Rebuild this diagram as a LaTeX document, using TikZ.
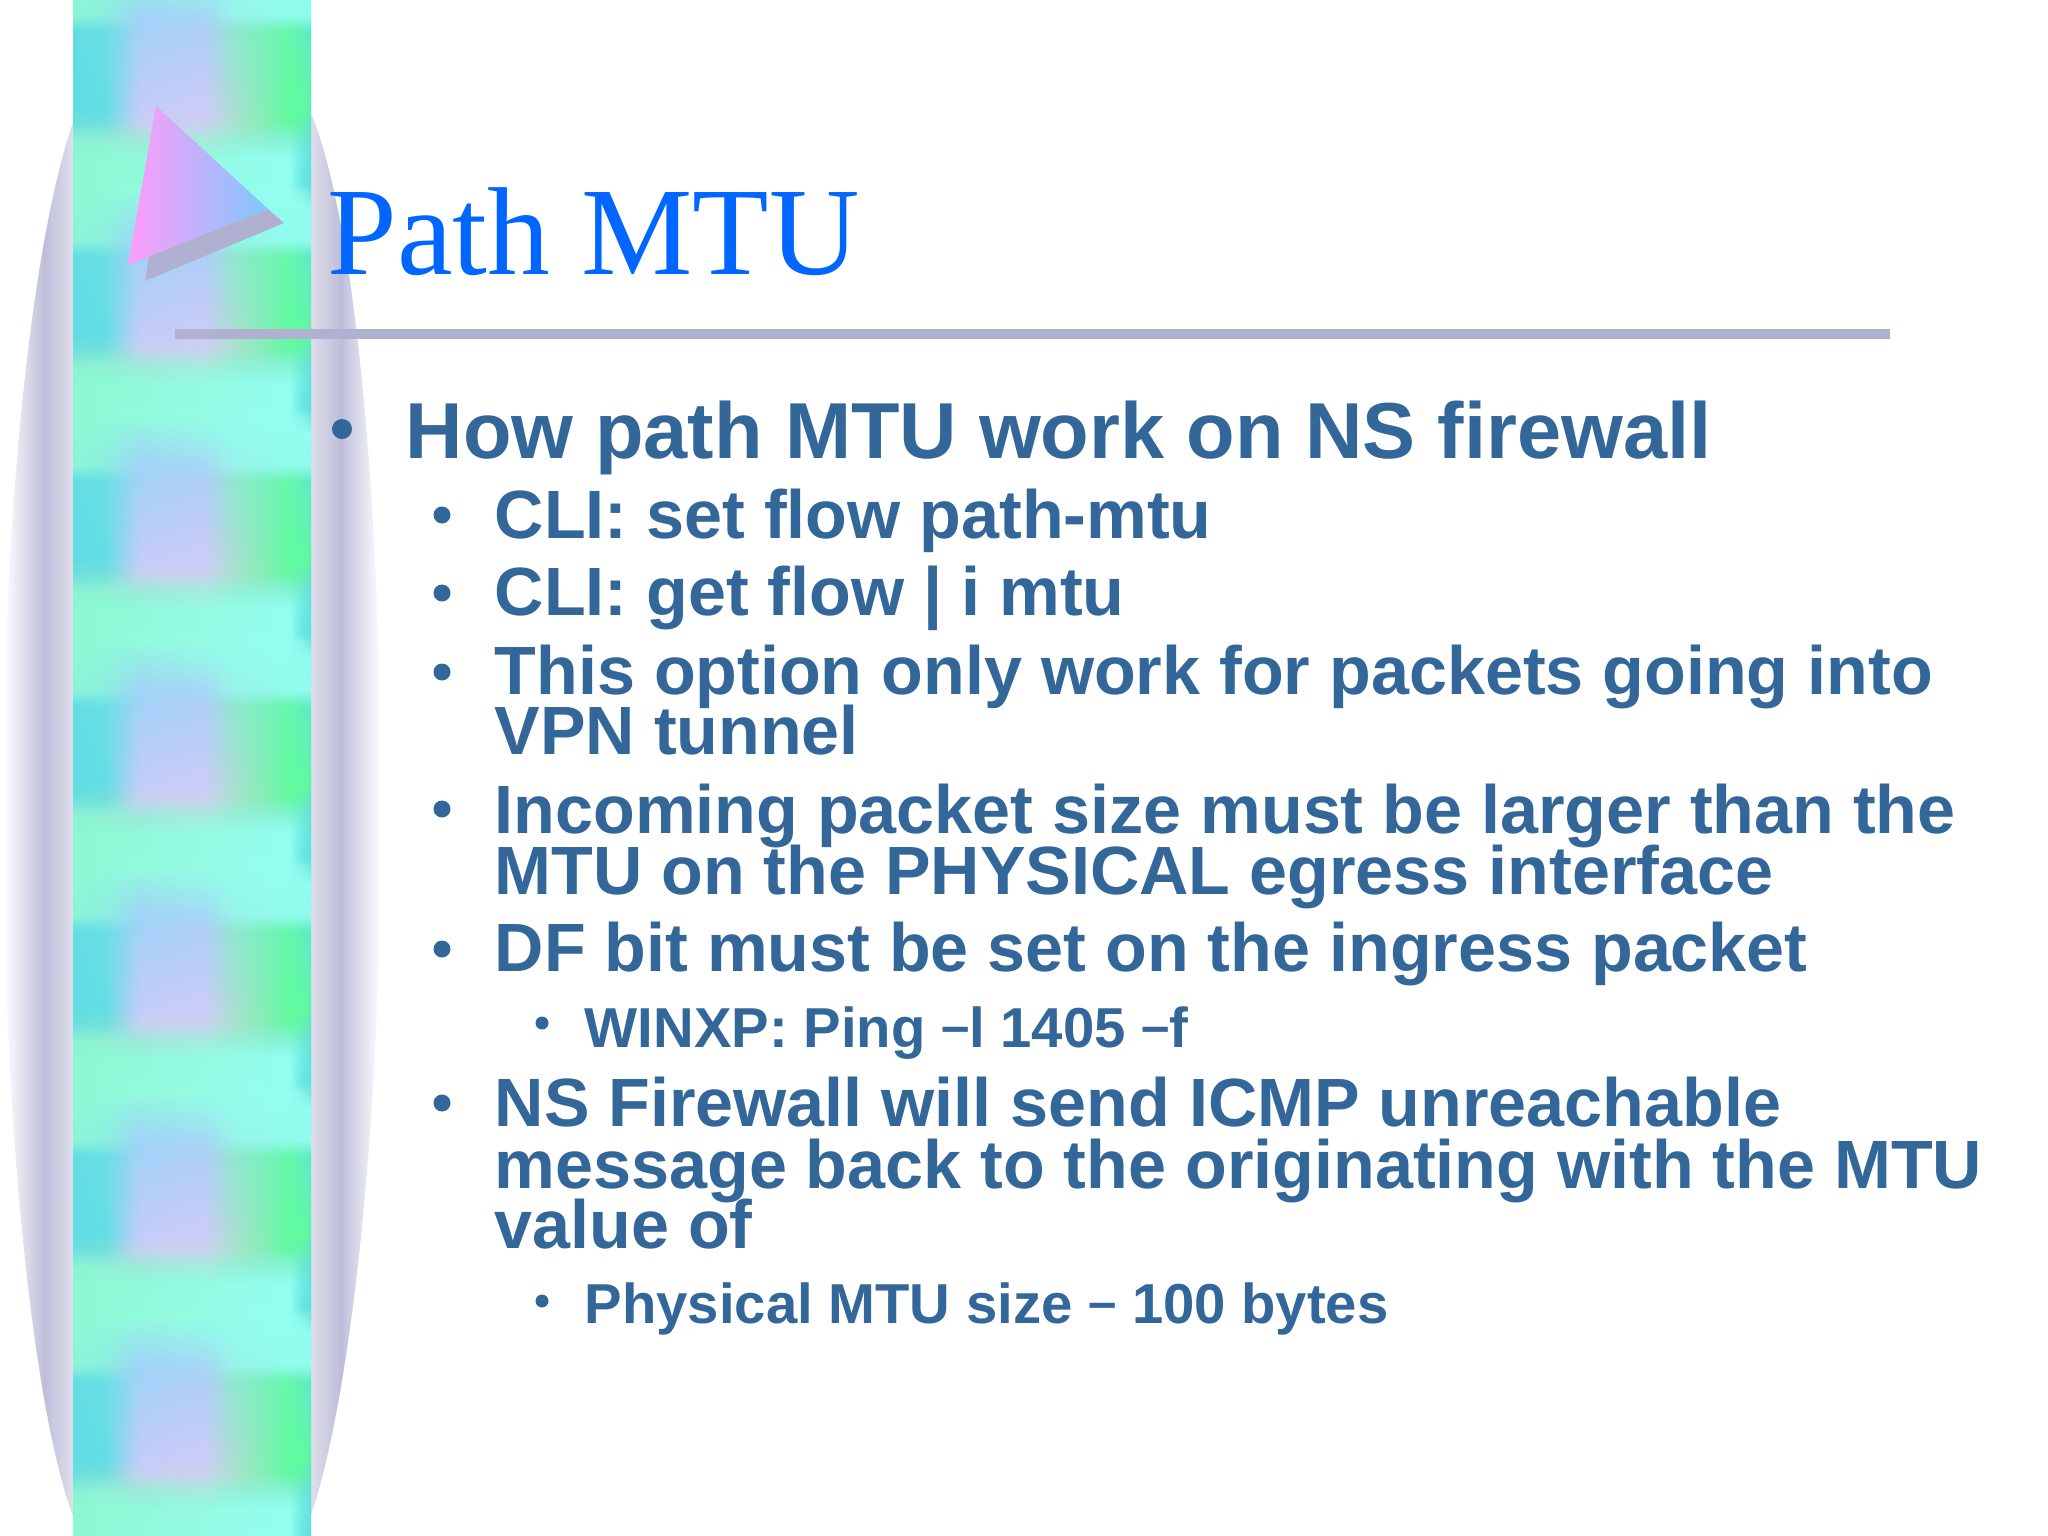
\documentclass[tikz,border=0pt]{standalone}
\usepackage{fontspec}
\setmainfont{Liberation Sans}
\newfontfamily\titlefont{Liberation Serif}
\usetikzlibrary{fadings}
\definecolor{txtblue}{HTML}{336699}
\definecolor{titleblue}{HTML}{0066FF}
\definecolor{rulegrey}{HTML}{B0B0D0}
\definecolor{pinkL}{HTML}{FF9CF8}
\definecolor{blueR}{HTML}{80C8FF}
\definecolor{ovA}{HTML}{FFFFFF}
\definecolor{ovB}{HTML}{BDBDD9}
\definecolor{ovC}{HTML}{C2C2DD}
\definecolor{ovD}{HTML}{DEDEEB}
\newcommand\mkrow[9]{%
 \definecolor{#1A}{HTML}{#2}\definecolor{#1B}{HTML}{#3}\definecolor{#1C}{HTML}{#4}\definecolor{#1D}{HTML}{#5}%
 \definecolor{#1E}{HTML}{#6}\definecolor{#1F}{HTML}{#7}\definecolor{#1G}{HTML}{#8}\definecolor{#1H}{HTML}{#9}%
 \pgfdeclarehorizontalshading{#1}{100bp}{color(0bp)=(#1A);color(25bp)=(#1A);color(31.7bp)=(#1B);color(39bp)=(#1C);color(52.7bp)=(#1D);color(59bp)=(#1E);color(70.5bp)=(#1F);color(73bp)=(#1G);color(75bp)=(#1H);color(100bp)=(#1H)}}
\mkrow{ra}{8CF8D0}{8EF9D8}{92FADD}{95FBE5}{95FCEA}{92FEF0}{8AF6EA}{70E8E4}
\mkrow{rb}{8CF8D0}{8EF6DC}{96ECE8}{96F4EA}{94FCEC}{92FEF0}{90FEF0}{90FEF0}
\mkrow{rc}{8CF5D8}{8CEFE0}{A0D4F8}{A6D8F4}{98F4EA}{90FCEE}{90FCEE}{90FCEE}
\mkrow{rd}{62DEE4}{6AE0E4}{A4D2F9}{B0CEF8}{90E8D0}{66F8AA}{62F0BC}{62E8CC}
\mkrow{re}{60DCE4}{64DEE4}{C4CCF8}{CCCCF8}{A8E0D0}{60FBA0}{60FBA0}{60F4A8}
\mkrow{rf}{6CE0DE}{70E0DE}{C8D0F4}{CCD0F2}{A8E4CC}{64F8A4}{64F4AC}{62E4C8}
\mkrow{rg}{8CF2D4}{90F2D4}{9EEAD8}{A6ECDC}{94F0D8}{84F4D8}{70ECD0}{62E2D8}
\mkrow{rh}{8CF8D0}{8EF9D4}{90F9DA}{94FAE2}{94FCE8}{92FEF0}{70EEE4}{60E2E0}
\mkrow{ri}{8CF8D0}{8EF9D6}{92FADC}{95FBE4}{95FCEA}{92FEF0}{68E8E2}{60E0E0}
\pgfdeclarehorizontalshading{ovalshade}{100bp}{color(0bp)=(ovA);color(25bp)=(ovA);color(30.55bp)=(ovB);color(30.8bp)=(ovC);color(34.25bp)=(ovD);color(65.75bp)=(ovD);color(69.75bp)=(ovB);color(70bp)=(ovC);color(75bp)=(ovA);color(100bp)=(ovA)}
\tikzfading[name=fdown, top color=transparent!100, bottom color=transparent!0]
\newcommand\shortdash{\raisebox{1pt}{\fontsize{14.5}{18}\selectfont –}}
\tikzset{
 lone/.style={anchor=base west,inner sep=0pt,text=txtblue,font=\fontsize{22.58}{26}\selectfont\bfseries},
 ltwo/.style={anchor=base west,inner sep=0pt,text=txtblue,font=\fontsize{19.42}{22}\selectfont\bfseries},
 lthree/.style={anchor=base west,inner sep=0pt,text=txtblue,font=\fontsize{16}{18}\selectfont\bfseries},
 bul/.style={fill=txtblue,draw=none},
}
\begin{document}
\begin{tikzpicture}[x=0.01cm,y=-0.01cm]
\useasboundingbox (0,0) rectangle (2048,1536);
\fill[white] (0,0) rectangle (2048,1536);
% oval behind the strip
\shade[shading=ovalshade] (73,122) .. controls (30,250) and (3,520) .. (3,815)
  .. controls (3,1100) and (30,1400) .. (73,1516) -- (311,1515)
  .. controls (350,1400) and (381,1130) .. (381,815)
  .. controls (381,500) and (355,220) .. (311,113) -- cycle;
% patterned strip
\begin{scope}
\clip (73,0) rectangle (311,1536);
\foreach \s in {-202,23,248,473,698,923,1148,1373}{
 \foreach \ra/\rb/\ya/\yb in {ra/rb/-55/-40,rb/rc/-40/-8,rc/rd/-8/8,rd/re/8/85,re/rf/85/100,rf/rg/100/118,rg/rh/118/135,rh/ri/135/160,ri/ra/160/170}{
  \shade[shading=\ra] (73,{\s+\ya}) rectangle (311,{\s+\yb+1});
  \shade[shading=\rb,path fading=fdown] (73,{\s+\ya}) rectangle (311,{\s+\yb});
 }
}
\end{scope}
% triangle
\fill[rulegrey] (268,209) -- (284,223) -- (145,281) -- (149,256) -- cycle;
\shade[left color=pinkL,right color=blueR] (156,106) -- (268,209) -- (128,265) -- cycle;
% rule
\fill[rulegrey] (175,329) rectangle (1890,339);
% title
\node[anchor=base west,inner sep=0pt,text=titleblue,font=\titlefont\fontsize{35.6}{40}\selectfont] (title) at (327,274) {Path MTU};
% bullets
\fill[bul] (342,429) circle (10);
\foreach \y in {515,593,672,809,949,1103}{\fill[bul] (442,\y) circle (8.5);}
\foreach \y in {1023,1301}{\fill[bul] (542,\y) circle (6.5);}
% text
\node[lone] (t1) at (405,458) {How path MTU work on NS firewall};
\node[ltwo] (t2) at (494,538) {CLI: set flow path-mtu};
\node[ltwo] (t3) at (494,615) {CLI: get flow | i mtu};
\node[ltwo] (t4) at (494,694) {This option only work for packets going into};
\node[ltwo] (t5) at (494,754) {VPN tunnel};
\node[ltwo] (t6) at (494,833) {Incoming packet size must be larger than the};
\node[ltwo] (t7) at (494,894) {MTU on the PHYSICAL egress interface};
\node[ltwo] (t8) at (494,971) {DF bit must be set on the ingress packet};
\node[lthree] (t9) at (584,1047) {WINXP: Ping \shortdash l 1405 \shortdash f};
\node[ltwo] (t10) at (494,1126) {NS Firewall will send ICMP unreachable};
\node[ltwo] (t11) at (494,1188) {message back to the originating with the MTU};
\node[ltwo] (t12) at (494,1248) {value of};
\node[lthree] (t13) at (584,1323) {Physical MTU size \shortdash{} 100 bytes};
\end{tikzpicture}
\end{document}
